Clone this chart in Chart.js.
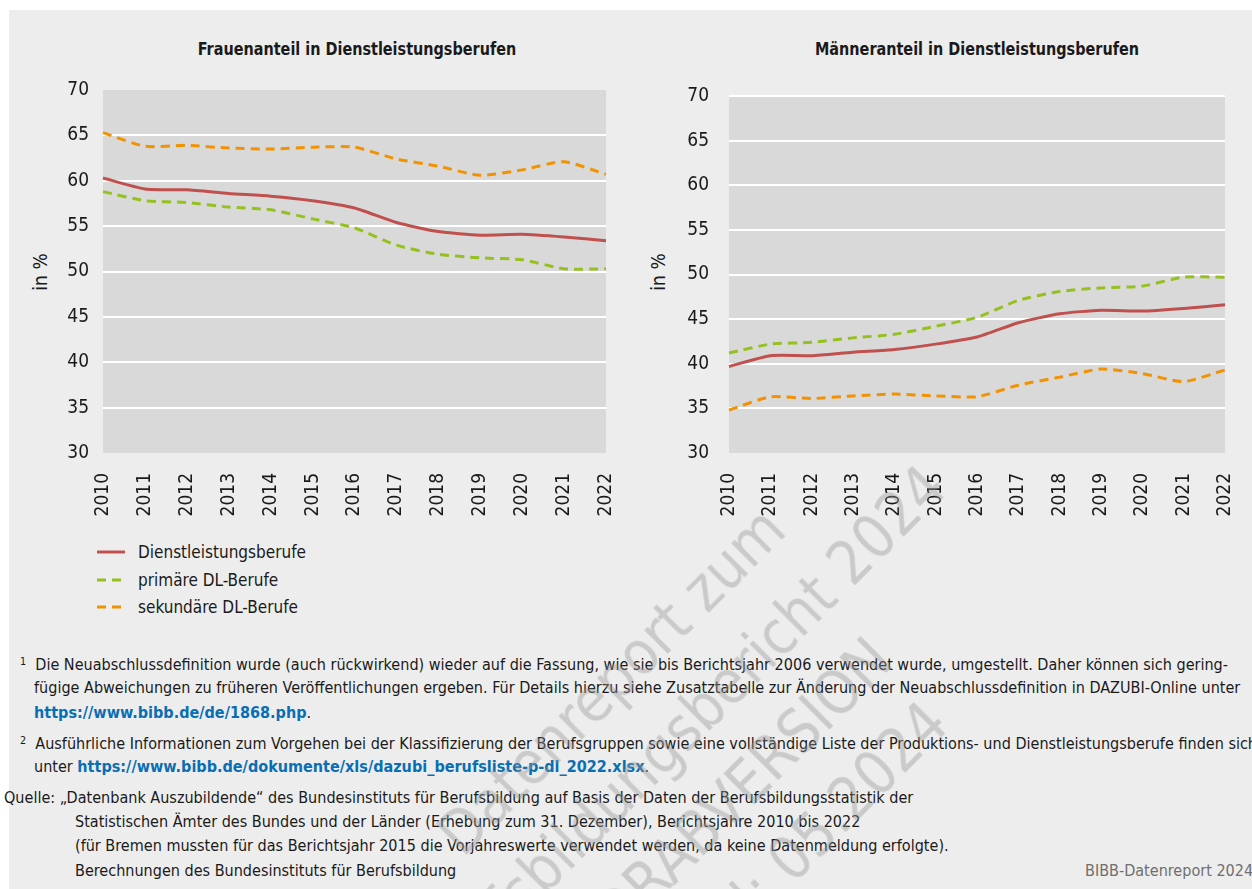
<!DOCTYPE html>
<html lang="de">
<head>
<meta charset="utf-8">
<title>Frauen- und Männeranteil in Dienstleistungsberufen</title>
<script src="https://cdn.jsdelivr.net/npm/chart.js@4.4.1/dist/chart.umd.min.js"></script>
<style>
  body { margin: 0; background: #fff; font-family: "DejaVu Sans Condensed", "Liberation Sans Narrow", sans-serif; color: #1a1a1a; }
  #page { position: relative; width: 1252px; height: 889px; overflow: hidden; }
  #panel { position: absolute; left: 9px; top: 10px; right: 0; bottom: 0; background: #ededed; }
  .abs { position: absolute; white-space: nowrap; }
  .title { font-weight: bold; font-size: 18px; transform: translateX(-50%) scaleX(0.89); }
  .ytitle { font-size: 19px; transform: translate(-50%, -50%) rotate(-90deg); }
  .leg { font-size: 17px; line-height: 22px; }
  .fn { font-size: 16.5px; line-height: 22px; transform: scaleX(0.972); transform-origin: 0 50%; }
  .fn a { color: #0a6eb4; font-weight: bold; text-decoration: none; }
  sup { font-size: 11px; vertical-align: 5px; }
  #wm { position: absolute; left: 700px; top: 770px; transform: translate(-50%, -50%) rotate(-45deg);
        color: rgba(150,150,150,0.40); font-size: 60px; line-height: 84px; text-align: center; white-space: nowrap; pointer-events: none; }
  canvas { position: absolute; }
</style>
</head>
<body>
<div id="page">
  <div id="panel"></div>

  <div class="abs title" style="left:357px; top:38px;">Frauenanteil in Dienstleistungsberufen</div>
  <div class="abs title" style="left:977px; top:38px;">Männeranteil in Dienstleistungsberufen</div>

  <div class="abs ytitle" style="left:40px; top:272px;">in %</div>
  <div class="abs ytitle" style="left:658px; top:272px;">in %</div>

  <canvas id="chartF" style="left:0; top:60px;" width="640" height="470"></canvas>
  <canvas id="chartM" style="left:620px; top:60px;" width="632" height="470"></canvas>

  <div id="legend"></div>

  <div class="abs fn" style="left:20px; top:651px;"><sup>1</sup>&nbsp; Die Neuabschlussdefinition wurde (auch rückwirkend) wieder auf die Fassung, wie sie bis Berichtsjahr 2006 verwendet wurde, umgestellt. Daher können sich gering-</div>
  <div class="abs fn" style="left:34px; top:677px;">fügige Abweichungen zu früheren Veröffentlichungen ergeben. Für Details hierzu siehe Zusatztabelle zur Änderung der Neuabschlussdefinition in DAZUBI-Online unter</div>
  <div class="abs fn" style="left:34px; top:702px;"><a>https://www.bibb.de/de/1868.php</a>.</div>
  <div class="abs fn" style="left:20px; top:730px;"><sup>2</sup>&nbsp; Ausführliche Informationen zum Vorgehen bei der Klassifizierung der Berufsgruppen sowie eine vollständige Liste der Produktions- und Dienstleistungsberufe finden sich</div>
  <div class="abs fn" style="left:34px; top:756px;">unter <a>https://www.bibb.de/dokumente/xls/dazubi_berufsliste-p-dl_2022.xlsx</a>.</div>
  <div class="abs fn" style="left:4px; top:787px;">Quelle: „Datenbank Auszubildende“ des Bundesinstituts für Berufsbildung auf Basis der Daten der Berufsbildungsstatistik der</div>
  <div class="abs fn" style="left:75px; top:811px;">Statistischen Ämter des Bundes und der Länder (Erhebung zum 31. Dezember), Berichtsjahre 2010 bis 2022</div>
  <div class="abs fn" style="left:75px; top:835px;">(für Bremen mussten für das Berichtsjahr 2015 die Vorjahreswerte verwendet werden, da keine Datenmeldung erfolgte).</div>
  <div class="abs fn" style="left:75px; top:860px;">Berechnungen des Bundesinstituts für Berufsbildung</div>
  <div class="abs fn" style="left:1085px; top:860px; color:#6f6f6f;">BIBB-Datenreport 2024</div>

  <div id="wm">Datenreport zum<br>Berufsbildungsbericht 2024<br>VORABVERSION<br>Stand: 05.2024</div>
</div>

<script>
// Jahre und Werte (in %)
const years = ['2010', '2011', '2012', '2013', '2014', '2015', '2016', '2017', '2018', '2019', '2020', '2021', '2022'];

const seriesNames = ['Dienstleistungsberufe', 'primäre DL-Berufe', 'sekundäre DL-Berufe'];

// Frauenanteil
const womenDL = [60.3, 59.1, 59.0, 58.6, 58.3, 57.8, 57.0, 55.4, 54.4, 54.0, 54.1, 53.8, 53.4];
const womenPrimary = [58.8, 57.8, 57.6, 57.1, 56.8, 55.8, 54.8, 52.9, 51.9, 51.5, 51.3, 50.3, 50.3];
const womenSecondary = [65.3, 63.8, 63.9, 63.6, 63.5, 63.7, 63.7, 62.4, 61.6, 60.6, 61.2, 62.1, 60.7];

// Männeranteil
const menDL = [39.7, 40.9, 40.9, 41.3, 41.6, 42.2, 43.0, 44.6, 45.6, 46.0, 45.9, 46.2, 46.6];
const menPrimary = [41.2, 42.2, 42.4, 42.9, 43.3, 44.2, 45.2, 47.1, 48.1, 48.5, 48.7, 49.7, 49.7];
const menSecondary = [34.8, 36.3, 36.1, 36.4, 36.6, 36.4, 36.3, 37.6, 38.5, 39.4, 38.9, 38.0, 39.3];

const yTicks = [30, 35, 40, 45, 50, 55, 60, 65, 70];

const colors = ['#c0504d', '#95c11f', '#f39200'];
const dashes = [[], [9, 6], [9, 6]];
const FONT = '"DejaVu Sans Condensed", "Liberation Sans Narrow", sans-serif';

// grauer Hintergrund der Zeichenfläche
const plotBg = {
    id: 'plotBg',
    beforeDraw(chart) {
        const a = chart.chartArea;
        const ctx = chart.ctx;
        ctx.save();
        ctx.fillStyle = '#d9d9d9';
        ctx.fillRect(a.left, a.top, a.right - a.left, a.bottom - a.top);
        ctx.restore();
    }
};

function makeChart(id, values, opts) {
    return new Chart(document.getElementById(id), {
        type: 'line',
        data: {
            labels: years,
            datasets: values.map((v, i) => ({
                label: seriesNames[i],
                data: v,
                borderColor: colors[i],
                borderWidth: 3,
                borderDash: dashes[i],
                pointRadius: 0,
                tension: 0.2,
                fill: false
            }))
        },
        options: {
            responsive: false,
            animation: false,
            layout: { padding: opts.padding },
            plugins: { legend: { display: false }, tooltip: { enabled: false } },
            scales: {
                x: {
                    offset: false,
                    grid: { display: false },
                    border: { display: false },
                    ticks: {
                        minRotation: 90, maxRotation: 90, padding: 12,
                        color: '#1a1a1a', font: { family: FONT, size: 19 }
                    },
                    afterFit(scale) {
                        scale.height = opts.xHeight;
                        scale.paddingLeft = 0;
                        scale.paddingRight = 0;
                    }
                },
                y: {
                    min: 30, max: 70,
                    afterBuildTicks(scale) { scale.ticks = yTicks.map(v => ({ value: v })); },
                    grid: {
                        drawTicks: false,
                        lineWidth: 2,
                        color: ctx => (ctx.tick.value === 30 || (ctx.tick.value === 70 && !opts.topLine)) ? 'rgba(0,0,0,0)' : '#ffffff'
                    },
                    border: { display: false },
                    ticks: {
                        padding: opts.tickPad,
                        color: '#1a1a1a', font: { family: FONT, size: 19 }
                    },
                    afterFit(scale) {
                        scale.width = opts.yWidth;
                        scale.paddingTop = 0;
                        scale.paddingBottom = 0;
                    }
                }
            }
        },
        plugins: [plotBg]
    });
}

// Frauen: Plotbereich x 103..606, y 90..453
makeChart('chartF', [womenDL, womenPrimary, womenSecondary], {
    padding: { top: 30, right: 34, bottom: 0, left: 0 },
    yWidth: 103, xHeight: 77, tickPad: 14, topLine: false
});

// Männer: Plotbereich x 729..1225, y 96..453
makeChart('chartM', [menDL, menPrimary, menSecondary], {
    padding: { top: 36, right: 27, bottom: 0, left: 0 },
    yWidth: 109, xHeight: 77, tickPad: 20, topLine: true
});

// Legende
const legend = document.getElementById('legend');
const legendY = [552, 580, 607];
seriesNames.forEach((name, i) => {
    const row = document.createElement('div');
    row.className = 'abs leg';
    row.style.left = '97px';
    row.style.top = (legendY[i] - 11) + 'px';
    const dash = dashes[i].length ? 'stroke-dasharray="9 6"' : '';
    row.innerHTML = '<svg width="30" height="22" style="vertical-align:top"><line x1="0" y1="11" x2="28" y2="11" stroke="' +
        colors[i] + '" stroke-width="3" ' + dash + '/></svg>' +
        '<span style="position:absolute; left:41px; top:0">' + name + '</span>';
    legend.appendChild(row);
});
</script>
</body>
</html>
